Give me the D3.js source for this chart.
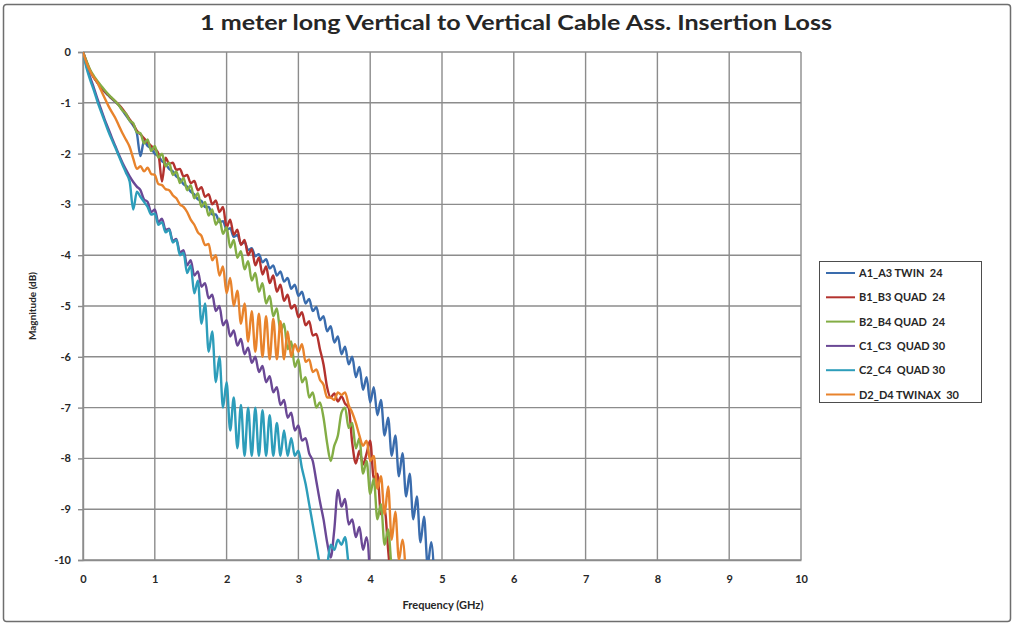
<!DOCTYPE html>
<html>
<head>
<meta charset="utf-8">
<script src="https://cdn.jsdelivr.net/npm/d3@7"></script>
<style>
  body { margin: 0; background: #fff; }
  text { font-family: Lato, "Liberation Sans", sans-serif; fill: #262626; }
</style>
</head>
<body>
<div id="chart"></div>
<script>
// --- DATA ---
// insertion loss in dB, one sample every 0.05 GHz starting at 0 GHz
const freqStep = 0.05;

const a1a3 = [0, -0.2, -0.38, -0.5, -0.6, -0.7, -0.78, -0.85, -0.92, -0.98,
  -1.05, -1.15, -1.25, -1.35, -1.45, -1.6, -2.05, -1.75, -1.85, -1.9,
  -2.0, -2.05, -2.15, -2.2, -2.3, -2.35, -2.45, -2.5, -2.6, -2.65,
  -2.75, -2.8, -2.9, -2.93, -3.05, -3.05, -3.2, -3.2, -3.35, -3.33,
  -3.5, -3.47, -3.64, -3.6, -3.78, -3.74, -3.9, -3.86, -4.02, -3.98,
  -4.14, -4.08, -4.26, -4.2, -4.4, -4.32, -4.52, -4.45, -4.66, -4.58,
  -4.8, -4.72, -4.95, -4.86, -5.1, -5.02, -5.28, -5.2, -5.5, -5.4,
  -5.72, -5.6, -5.95, -5.8, -6.15, -6.0, -6.4, -6.2, -6.65, -6.4,
  -6.9, -6.6, -7.15, -6.85, -7.55, -7.2, -7.95, -7.55, -8.35, -7.9,
  -8.75, -8.3, -9.2, -8.75, -9.65, -9.15, -10.1, -9.65, -10.6];

const b1b3 = [0, -0.2, -0.37, -0.5, -0.6, -0.69, -0.77, -0.84, -0.91, -0.97,
  -1.04, -1.12, -1.22, -1.33, -1.42, -1.55, -1.62, -1.7, -1.78, -1.85,
  -1.9, -2.0, -2.55, -2.08, -2.2, -2.18, -2.32, -2.3, -2.45, -2.42,
  -2.58, -2.54, -2.72, -2.66, -2.85, -2.8, -3.0, -2.92, -3.15, -3.05,
  -3.45, -3.3, -3.6, -3.5, -3.8, -3.7, -4.0, -3.88, -4.2, -4.05,
  -4.38, -4.22, -4.55, -4.4, -4.72, -4.58, -4.9, -4.78, -5.05, -4.98,
  -5.22, -5.12, -5.38, -5.3, -5.58, -5.55, -5.85, -6.15, -6.6, -6.8,
  -6.72, -6.88, -6.78, -6.92, -7.0, -7.7, -8.1, -7.85, -8.12, -7.9,
  -7.65, -8.4, -8.3, -9.1, -9.0, -9.8, -10.6];

const b2b4 = [0, -0.18, -0.35, -0.47, -0.57, -0.66, -0.75, -0.83, -0.9, -0.97,
  -1.05, -1.15, -1.22, -1.35, -1.4, -1.58, -1.6, -1.8, -1.72, -1.95,
  -1.85, -2.08, -2.0, -2.25, -2.18, -2.42, -2.35, -2.58, -2.48, -2.72,
  -2.62, -2.88, -2.78, -3.05, -2.95, -3.22, -3.1, -3.4, -3.28, -3.58,
  -3.45, -3.85, -3.7, -4.05, -3.92, -4.28, -4.12, -4.5, -4.35, -4.72,
  -4.55, -4.95, -4.8, -5.2, -5.05, -5.5, -5.35, -5.85, -5.7, -6.2,
  -6.05, -6.5, -6.4, -6.8, -6.7, -7.0, -6.9, -7.2, -7.7, -8.05,
  -7.75, -7.55, -7.1, -7.0, -7.4, -7.3, -7.8, -7.6, -8.3, -8.05,
  -8.7, -8.4, -9.2, -8.9, -9.7, -9.4, -10.2, -10.6];

const c1c3 = [0, -0.28, -0.5, -0.7, -0.92, -1.12, -1.32, -1.5, -1.68, -1.85,
  -2.02, -2.18, -2.32, -2.45, -2.56, -2.65, -2.72, -2.9, -2.95, -3.15,
  -3.1, -3.35, -3.28, -3.5, -3.48, -3.72, -3.68, -3.95, -3.9, -4.2,
  -4.1, -4.4, -4.32, -4.62, -4.55, -4.85, -4.78, -5.1, -5.0, -5.38,
  -5.28, -5.6, -5.48, -5.78, -5.65, -5.95, -5.82, -6.12, -6.0, -6.3,
  -6.18, -6.5, -6.38, -6.7, -6.6, -6.95, -6.85, -7.2, -7.1, -7.45,
  -7.35, -7.65, -7.6, -7.9, -8.05, -8.45, -8.85, -9.2, -9.65, -9.95,
  -9.4, -8.62, -8.95, -8.8, -9.3, -9.2, -9.55, -9.35, -9.8, -9.55,
  -10.4];

const c2c4 = [0, -0.32, -0.55, -0.75, -0.97, -1.17, -1.36, -1.55, -1.72, -1.88,
  -2.05, -2.22, -2.38, -2.55, -3.1, -2.75, -2.85, -2.95, -3.05, -3.2,
  -3.18, -3.4, -3.35, -3.55, -3.5, -3.75, -3.7, -4.0, -3.95, -4.35,
  -4.2, -4.75, -4.5, -5.35, -4.95, -5.9, -5.5, -6.5, -6.0, -7.0,
  -6.5, -7.45, -6.8, -7.8, -6.95, -7.95, -7.0, -7.95, -7.0, -7.95,
  -7.05, -7.95, -7.15, -7.95, -7.3, -7.95, -7.45, -7.95, -7.6, -7.95,
  -7.85, -8.2, -8.5, -8.9, -9.3, -9.7, -10.1, -10.3, -10.1, -9.7,
  -9.8, -9.6, -9.7, -9.55, -10.1, -10.5];

const d2d4 = [0, -0.22, -0.38, -0.5, -0.6, -0.75, -0.9, -1.05, -1.18, -1.3,
  -1.45, -1.6, -1.73, -1.87, -2.1, -2.3, -2.25, -2.35, -2.28, -2.4,
  -2.42, -2.6, -2.62, -2.7, -2.72, -2.82, -2.88, -3.0, -3.05, -3.15,
  -3.3, -3.4, -3.55, -3.62, -3.8, -3.78, -4.1, -4.0, -4.4, -4.22,
  -4.75, -4.45, -5.0, -4.7, -5.35, -4.95, -5.7, -5.1, -5.9, -5.15,
  -6.0, -5.2, -6.05, -5.25, -6.05, -5.3, -6.05, -5.5, -6.0, -5.75,
  -5.9, -5.75, -6.1, -6.05, -6.3, -6.25, -6.45, -6.55, -6.8, -6.8,
  -6.85, -6.7, -6.75, -6.7, -6.95, -7.1, -7.3, -7.55, -7.75, -7.65,
  -8.05, -7.95, -8.6, -8.35, -9.1, -8.55, -9.6, -9.05, -10.0, -9.6,
  -10.4];

const seriesNames = ["A1_A3 TWIN  24", "B1_B3 QUAD  24", "B2_B4 QUAD  24",
  "C1_C3  QUAD 30", "C2_C4  QUAD 30", "D2_D4 TWINAX  30"];
const seriesValues = [a1a3, b1b3, b2b4, c1c3, c2c4, d2d4];
const seriesColors = ["#3a6cad", "#b3322e", "#83ad45", "#6a4895", "#2d9dba", "#e8832c"];

const xTicks = [0, 1, 2, 3, 4, 5, 6, 7, 8, 9, 10];
const yTicks = [0, -1, -2, -3, -4, -5, -6, -7, -8, -9, -10];

// --- LAYOUT ---
const width = 1015;
const height = 625;
const plot = { left: 83, right: 801, top: 52, bottom: 560 };
const gridColor = "#8c8c8c";

const svg = d3.select("#chart")
  .append("svg")
  .attr("width", width)
  .attr("height", height);

// outer chart frame
svg.append("rect")
  .attr("x", 3.5).attr("y", 4.5)
  .attr("width", 1007).attr("height", 617)
  .attr("rx", 3)
  .attr("fill", "#fff")
  .attr("stroke", "#6e6e6e")
  .attr("stroke-width", 1.5);

svg.append("text")
  .attr("x", 516)
  .attr("y", 30)
  .attr("text-anchor", "middle")
  .attr("font-size", 20)
  .attr("font-weight", "bold")
  .attr("textLength", 632)
  .attr("lengthAdjust", "spacingAndGlyphs")
  .text("1 meter long Vertical to Vertical Cable Ass. Insertion Loss");

// --- SCALES ---
const x = d3.scaleLinear().domain([0, 10]).range([plot.left, plot.right]);
const y = d3.scaleLinear().domain([0, -10]).range([plot.top, plot.bottom]);

// --- GRID ---
const grid = svg.append("g").attr("stroke", gridColor).attr("stroke-width", 1.4);
grid.selectAll("line.h")
  .data(yTicks)
  .join("line")
  .attr("class", "h")
  .attr("x1", plot.left).attr("x2", plot.right)
  .attr("y1", d => y(d)).attr("y2", d => y(d));
grid.selectAll("line.v")
  .data(xTicks)
  .join("line")
  .attr("class", "v")
  .attr("x1", d => x(d)).attr("x2", d => x(d))
  .attr("y1", plot.top).attr("y2", plot.bottom);

// --- AXES ---
const yAxis = svg.append("g")
  .attr("transform", `translate(${plot.left},0)`)
  .call(d3.axisLeft(y).tickValues(yTicks).tickSize(5).tickPadding(7).tickFormat(d => String(d)));
const xAxis = svg.append("g")
  .attr("transform", `translate(0,${plot.bottom})`)
  .call(d3.axisBottom(x).tickValues(xTicks).tickSize(0).tickPadding(15).tickFormat(d => String(d)));

[yAxis, xAxis].forEach(a => {
  a.select(".domain").attr("stroke", gridColor).attr("stroke-width", 1.4);
  a.selectAll(".tick line").attr("stroke", gridColor).attr("stroke-width", 1.4);
  a.selectAll(".tick text")
    .attr("fill", "#262626")
    .attr("font-size", 11)
    .attr("font-weight", "bold")
    .attr("font-family", "Lato, 'Liberation Sans', sans-serif");
});

svg.append("text")
  .attr("x", 443)
  .attr("y", 609)
  .attr("text-anchor", "middle")
  .attr("font-size", 11)
  .attr("font-weight", "bold")
  .text("Frequency (GHz)");

svg.append("text")
  .attr("transform", "translate(36,306) rotate(-90)")
  .attr("text-anchor", "middle")
  .attr("font-size", 10)
  .attr("font-weight", "bold")
  .text("Magnitude (dB)");

// --- LINES ---
svg.append("clipPath")
  .attr("id", "plot-clip")
  .append("rect")
  .attr("x", plot.left).attr("y", plot.top)
  .attr("width", plot.right - plot.left)
  .attr("height", plot.bottom - plot.top);

const line = d3.line()
  .x((d, i) => x(i * freqStep))
  .y(d => y(d))
  .curve(d3.curveMonotoneX);

svg.append("g")
  .attr("clip-path", "url(#plot-clip)")
  .selectAll("path")
  .data(seriesValues)
  .join("path")
  .attr("fill", "none")
  .attr("stroke", (d, i) => seriesColors[i])
  .attr("stroke-width", 2.4)
  .attr("stroke-linejoin", "round")
  .attr("d", d => line(d));

// --- LEGEND ---
const legend = svg.append("g");
legend.append("rect")
  .attr("x", 819.5).attr("y", 261.5)
  .attr("width", 162).attr("height", 141)
  .attr("fill", "#fff")
  .attr("stroke", "#4d4d4d")
  .attr("stroke-width", 1);

const entries = legend.selectAll("g.entry")
  .data(seriesNames)
  .join("g")
  .attr("class", "entry")
  .attr("transform", (d, i) => `translate(826,${273 + i * 24.3})`);

entries.append("line")
  .attr("x1", 0).attr("x2", 29)
  .attr("stroke", (d, i) => seriesColors[i])
  .attr("stroke-width", 2);

entries.append("text")
  .attr("x", 33)
  .attr("y", 4)
  .attr("font-size", 11)
  .attr("font-weight", "bold")
  .attr("xml:space", "preserve")
  .style("white-space", "pre")
  .text(d => d);
</script>
</body>
</html>
